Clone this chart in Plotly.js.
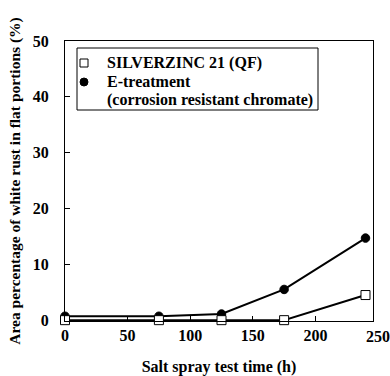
<!DOCTYPE html>
<html>
<head>
<meta charset="utf-8">
<script src="https://cdn.plot.ly/plotly-3.0.1.min.js"></script>
<style>html,body{margin:0;padding:0;background:#fff;}#chart{width:390px;height:376px;}</style>
</head>
<body>
<div id="chart"></div>
<script>
// Data
var timeH = [0, 75, 125, 175, 240];
var silverzinc = [0, 0, 0, 0, 4.5];
var eTreatment = [0.7, 0.7, 1.1, 5.5, 14.7];
var seriesNames = ['SILVERZINC 21 (QF)', 'E-treatment', '(corrosion resistant chromate)'];
var xTickVals = [0, 50, 100, 150, 200, 250];
var yTickVals = [0, 10, 20, 30, 40, 50];

var FONT = 'Liberation Serif, Times New Roman, serif';
var xMax = 246;
var plotL = 65, plotR = 373, plotT = 41, plotB = 321;
var W = plotR - plotL, H = plotB - plotT;
function px(xp) { return (xp - plotL) / W; }
function py(yp) { return (plotB - yp) / H; }

var traces = [
  {x: timeH, y: eTreatment, name: seriesNames[1] + ' ' + seriesNames[2], mode: 'lines+markers', cliponaxis: false,
   line: {color: '#000', width: 2},
   marker: {symbol: 'circle', size: 8.5, color: '#000', line: {color: '#000', width: 1}}},
  {x: timeH, y: silverzinc, name: seriesNames[0], mode: 'lines+markers', cliponaxis: false,
   line: {color: '#000', width: 2},
   marker: {symbol: 'square', size: 9, color: '#fff', line: {color: '#000', width: 1}}}
];

var inRange = xTickVals.filter(function(v){return v <= xMax;});
var outRange = xTickVals.filter(function(v){return v > xMax;});

var legendLineY = [63, 81.5, 100];
var annotations = seriesNames.map(function(t, i){
  return {xref: 'paper', yref: 'paper', x: px(105), y: py(legendLineY[i]), xanchor: 'left', yanchor: 'middle', align: 'left',
    showarrow: false, text: '<b>' + t + '</b>', font: {family: FONT, size: 16, color: '#000'}};
});
outRange.forEach(function(v){
  annotations.push({xref: 'paper', yref: 'paper', x: v / xMax, y: 0, xanchor: 'center', yanchor: 'top', yshift: -5,
    showarrow: false, text: '<b>' + v + '</b>', font: {family: FONT, size: 16, color: '#000'}});
});

var shapes = [
  {type: 'rect', xref: 'paper', yref: 'paper', x0: px(77), x1: px(318), y0: py(110), y1: py(48),
   line: {color: '#000', width: 1}, fillcolor: 'rgba(0,0,0,0)'},
  {type: 'rect', xref: 'paper', yref: 'paper', x0: px(80), x1: px(88), y0: py(67), y1: py(59),
   line: {color: '#000', width: 1}, fillcolor: '#fff'},
  {type: 'circle', xref: 'paper', yref: 'paper', x0: px(80), x1: px(88), y0: py(86), y1: py(78),
   line: {color: '#000', width: 1}, fillcolor: '#000'}
];

var layout = {
  width: 390, height: 376,
  margin: {l: plotL, r: 390 - plotR, t: plotT, b: 376 - plotB, pad: 0},
  paper_bgcolor: '#fff', plot_bgcolor: '#fff',
  showlegend: false,
  font: {family: FONT, color: '#000', size: 16},
  xaxis: {
    range: [0, xMax], tickvals: inRange, ticktext: inRange.map(function(v){return '<b>'+v+'</b>';}),
    ticks: 'inside', ticklen: 5, tickwidth: 1, tickcolor: '#000',
    showline: true, linecolor: '#000', linewidth: 1, mirror: true,
    showgrid: false, zeroline: false, ticklabelstandoff: 0,
    tickfont: {family: FONT, size: 16, color: '#000'},
    title: {text: '<b>Salt spray test time (h)</b>', font: {family: FONT, size: 16, color: '#000'}, standoff: 18}
  },
  yaxis: {
    range: [-0.15, 50], tickvals: yTickVals, ticktext: yTickVals.map(function(v){return '<b>'+v+'</b>';}),
    ticks: 'inside', ticklen: 5, tickwidth: 1, tickcolor: '#000',
    showline: true, linecolor: '#000', linewidth: 1, mirror: true,
    showgrid: false, zeroline: false, ticklabelstandoff: 12,
    tickfont: {family: FONT, size: 16, color: '#000'},
    title: {text: '<b>Area percentage of white rust in flat portions (%)</b>', font: {family: FONT, size: 15.5, color: '#000'}, standoff: 8}
  },
  annotations: annotations,
  shapes: shapes
};

Plotly.newPlot('chart', traces, layout, {displayModeBar: false, staticPlot: true});
</script>
</body>
</html>
